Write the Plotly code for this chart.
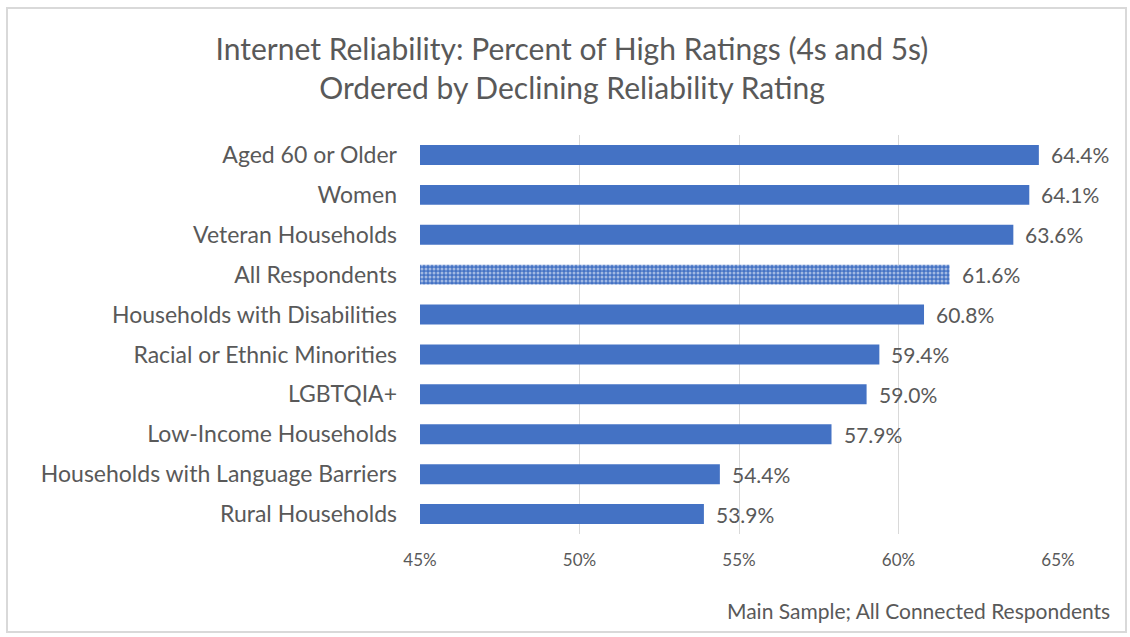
import plotly.graph_objects as go

categories = ["Aged 60 or Older", "Women", "Veteran Households", "All Respondents",
              "Households with Disabilities", "Racial or Ethnic Minorities", "LGBTQIA+",
              "Low-Income Households", "Households with Language Barriers", "Rural Households"]
values = [64.4, 64.1, 63.6, 61.6, 60.8, 59.4, 59.0, 57.9, 54.4, 53.9]
highlight = "All Respondents"
x_ticks = [45, 50, 55, 60, 65]
x_tick_labels = ["45%", "50%", "55%", "60%", "65%"]

W, H = 1130, 637
L, R, T, B = 420, 1058, 135, 534
FONT = "Lato, Open Sans, sans-serif"
GRAY = "#595959"
BLUE = "#4472C4"

shapes = ["." if c == highlight else "" for c in categories]

fig = go.Figure(go.Bar(
    y=categories, x=[v - 45 for v in values], base=45, orientation="h",
    marker=dict(color=BLUE, line=dict(width=0),
                pattern=dict(shape=shapes, fgcolor="white", bgcolor=BLUE,
                             size=4, solidity=0.45)),
    width=0.5, hoverinfo="x+y",
))

annotations = [dict(x=v, y=c, xref="x", yref="y", text=f"{v:.1f}%", showarrow=False,
                    xanchor="left", yanchor="middle", xshift=10,
                    font=dict(family=FONT, size=21, color=GRAY))
               for c, v in zip(categories, values)]
annotations.append(dict(text="Main Sample; All Connected Respondents", xref="paper", yref="paper",
                        x=(1112 - L) / (R - L), y=-(610 - B) / (B - T), xanchor="right",
                        yanchor="middle", showarrow=False,
                        font=dict(family=FONT, size=21, color=GRAY)))

fig.update_layout(
    width=W, height=H,
    margin=dict(l=L, r=W - R, t=T, b=H - B),
    paper_bgcolor="white", plot_bgcolor="white",
    showlegend=False,
    title=dict(text="Internet Reliability: Percent of High Ratings (4s and 5s)<br>Ordered by Declining Reliability Rating",
               x=572 / W, xanchor="center", y=1 - 60 / H, yanchor="middle",
               font=dict(family=FONT, size=30, color=GRAY)),
    xaxis=dict(range=[45, 65], tickvals=x_ticks, ticktext=x_tick_labels,
               showgrid=True, gridcolor="#d9d9d9", gridwidth=1, zeroline=False,
               tickfont=dict(family=FONT, size=17, color=GRAY), ticks="", showline=False,
               ticklabelstandoff=14),
    yaxis=dict(autorange="reversed", tickfont=dict(family=FONT, size=23, color=GRAY),
               ticks="", showline=False, ticklabelstandoff=22),
    annotations=annotations,
    shapes=[dict(type="rect", xref="paper", yref="paper",
                 x0=(7 - L) / (R - L), x1=(1126 - L) / (R - L),
                 y0=-(632 - B) / (B - T), y1=1 + (T - 8) / (B - T),
                 line=dict(color="#d9d9d9", width=2), fillcolor="rgba(0,0,0,0)", layer="below")],
    bargap=0.5,
)

fig.write_html("out.html", config={"displayModeBar": False},
               post_script="document.body.style.margin='0';document.body.style.overflow='hidden';")
